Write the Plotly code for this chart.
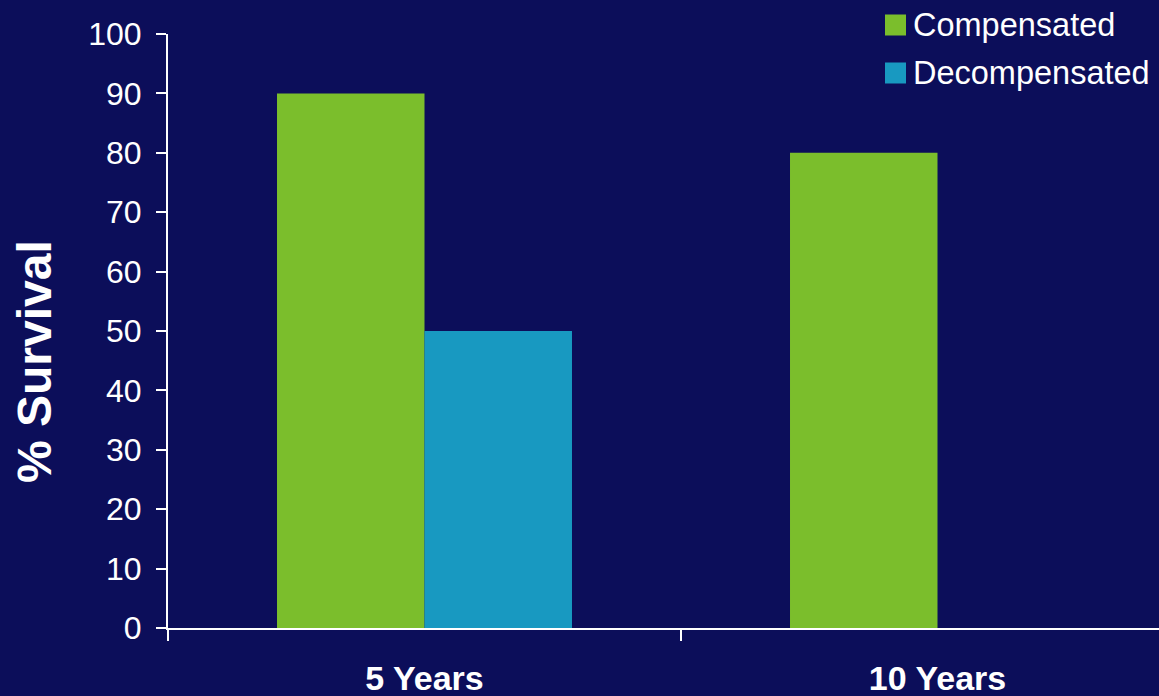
import plotly.graph_objects as go

# Survival data by follow-up period
categories = ["5 Years", "10 Years"]
compensated = [90, 80]
decompensated = [50, None]
series_names = ["Compensated", "Decompensated"]
y_ticks = [0, 10, 20, 30, 40, 50, 60, 70, 80, 90, 100]

BG = "#0c0e5a"
GREEN = "#7bbe2c"
BLUE = "#1899c1"
WHITE = "#ffffff"
FONT = "Liberation Sans, Arial, sans-serif"

W, H = 1159, 696
ML, MR, MT, MB = 168, 0, 34, 68
PW, PH = W - ML - MR, H - MT - MB


def px_x(x):
    return (x - ML) / PW


def px_y(y):
    return (H - MB - y) / PH


fig = go.Figure()
fig.add_trace(go.Bar(x=categories, y=compensated, name=series_names[0],
                     marker=dict(color=GREEN, line=dict(width=0))))
fig.add_trace(go.Bar(x=categories, y=decompensated, name=series_names[1],
                     marker=dict(color=BLUE, line=dict(width=0))))

# category width in pixels: one full band spans 513 px
band = 513
x_max = -0.5 + PW / band

fig.update_layout(
    width=W, height=H,
    paper_bgcolor=BG, plot_bgcolor=BG,
    margin=dict(l=ML, r=MR, t=MT, b=MB, pad=0),
    barmode="group", bargap=0.425, bargroupgap=0,
    showlegend=False,
    font=dict(family=FONT, color=WHITE),
    xaxis=dict(
        type="category", range=[-0.5, x_max],
        showline=True, linecolor=WHITE, linewidth=2,
        ticks="outside", tickson="boundaries", ticklen=11, tickwidth=1.5,
        tickcolor=WHITE, showgrid=False, zeroline=False,
        tickfont=dict(family=FONT, size=34, color=WHITE, weight="bold"),
        ticklabelstandoff=19,
    ),
    yaxis=dict(
        range=[0, 100], tickvals=y_ticks,
        showline=True, linecolor=WHITE, linewidth=2,
        ticks="outside", ticklen=10, tickwidth=1.5, tickcolor=WHITE,
        showgrid=False, zeroline=False,
        tickfont=dict(family=FONT, size=32, color=WHITE),
        ticklabelstandoff=8,
    ),
)

# axis title
fig.add_annotation(
    text="<b>% Survival</b>", textangle=-90,
    xref="paper", yref="paper", x=px_x(35), y=px_y(362),
    xanchor="center", yanchor="middle", showarrow=False,
    font=dict(family=FONT, size=48, color=WHITE),
)

# legend: colour swatches and labels
legend_rows = [(series_names[0], GREEN, 25), (series_names[1], BLUE, 73)]
for name, color, cy in legend_rows:
    fig.add_shape(type="rect", xref="paper", yref="paper",
                  x0=px_x(885), x1=px_x(906), y0=px_y(cy + 10.5), y1=px_y(cy - 10.5),
                  fillcolor=color, line=dict(width=0))
    fig.add_annotation(text=name, xref="paper", yref="paper",
                       x=px_x(911), y=px_y(cy), xanchor="left", yanchor="middle",
                       showarrow=False,
                       font=dict(family=FONT, size=32.5, color=WHITE))

fig.write_html("out.html")
